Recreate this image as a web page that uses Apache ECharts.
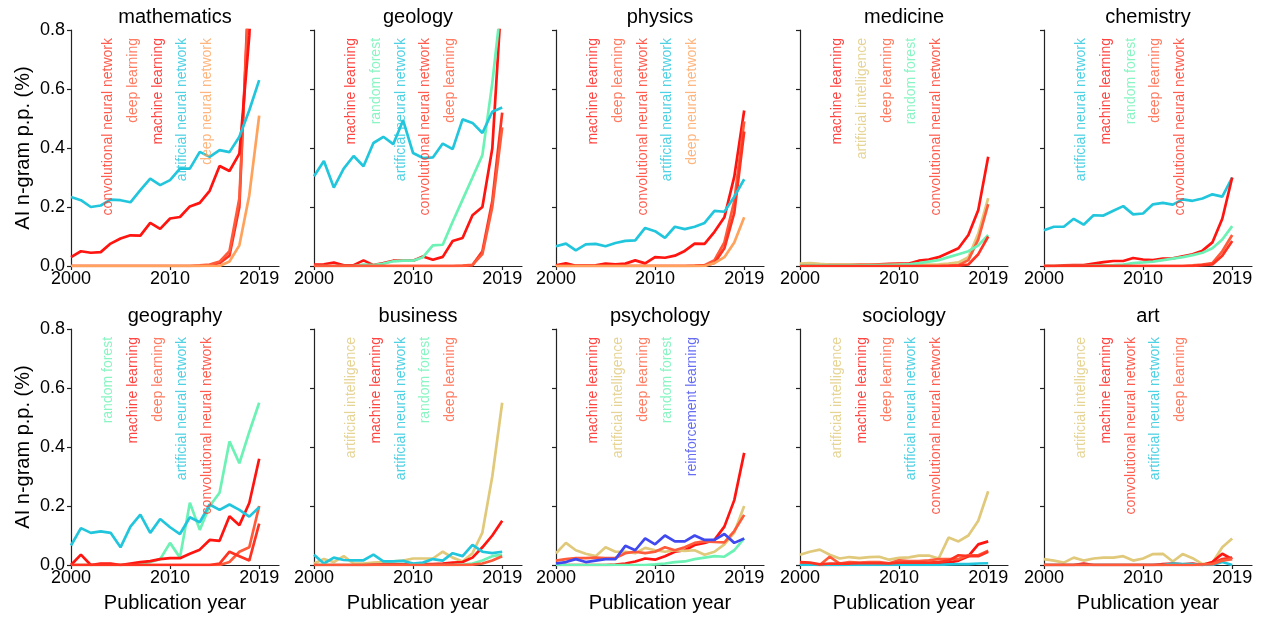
<!DOCTYPE html>
<html><head><meta charset="utf-8">
<script src="https://cdn.jsdelivr.net/npm/echarts@6/dist/echarts.min.js"></script>
<style>html,body{margin:0;padding:0;background:#fff}#c{width:1261px;height:617px}</style>
</head><body><div id="c"></div><script>
const years = [2000,2001,2002,2003,2004,2005,2006,2007,2008,2009,2010,2011,2012,2013,2014,2015,2016,2017,2018,2019];
const xTicks = [2000, 2010, 2019];
const yTicks = [0, 0.2, 0.4, 0.6, 0.8];

// mathematics
const math_CNN = [0,0,0,0,0,0,0,0,0,0,0,0,0,0,0.003,0.01,0.035,0.2,1.0,2.2];
const math_DL  = [0,0,0,0,0,0,0,0,0,0,0,0,0,0.002,0.005,0.015,0.05,0.23,0.95,2.0];
const math_ML  = [0.030,0.050,0.045,0.047,0.076,0.093,0.104,0.103,0.146,0.126,0.161,0.166,0.202,0.214,0.255,0.339,0.322,0.381,0.78,1.5];
const math_ANN = [0.234,0.223,0.200,0.205,0.225,0.223,0.216,0.257,0.296,0.274,0.291,0.330,0.330,0.387,0.370,0.393,0.386,0.438,0.528,0.630];
const math_DNN = [0,0,0,0,0,0,0,0,0,0,0,0,0,0,0,0,0.015,0.07,0.24,0.51];
// geology
const geo_ML  = [0.005,0.006,0.012,0.002,0.003,0.019,0.003,0.010,0.018,0.018,0.018,0.032,0.021,0.031,0.085,0.095,0.172,0.200,0.398,0.95];
const geo_RF  = [0,0,0,0,0,0.005,0.003,0.008,0.016,0.018,0.018,0.03,0.07,0.072,0.15,0.225,0.3,0.376,0.62,0.92];
const geo_ANN = [0.304,0.356,0.266,0.330,0.373,0.338,0.417,0.438,0.413,0.494,0.383,0.366,0.368,0.415,0.396,0.497,0.485,0.451,0.523,0.537];
const geo_CNN = [0,0,0,0,0,0,0,0,0,0,0,0,0,0,0,0,0.003,0.05,0.22,0.52];
const geo_DL  = [0,0,0,0,0,0,0,0,0,0,0,0,0,0,0,0.001,0.004,0.04,0.2,0.47];
// physics
const phy_ML  = [0.002,0.009,0.001,0.001,0.002,0.008,0.006,0.008,0.019,0.009,0.030,0.028,0.035,0.051,0.076,0.075,0.116,0.165,0.303,0.527];
const phy_DL  = [0,0,0,0,0,0,0,0,0,0,0,0,0,0,0.001,0.003,0.02,0.08,0.22,0.49];
const phy_CNN = [0,0,0,0,0,0,0,0,0,0,0,0,0,0,0,0.001,0.01,0.06,0.18,0.456];
const phy_ANN = [0.067,0.076,0.053,0.073,0.075,0.067,0.078,0.085,0.087,0.129,0.118,0.095,0.133,0.125,0.133,0.146,0.187,0.184,0.235,0.294];
const phy_DNN = [0,0,0,0,0,0,0,0,0,0,0,0,0,0,0,0,0.01,0.03,0.08,0.165];
// medicine
const med_ML  = [0.004,0.004,0.004,0.004,0.004,0.004,0.005,0.005,0.006,0.007,0.008,0.008,0.018,0.022,0.03,0.045,0.06,0.105,0.19,0.37];
const med_AI  = [0.008,0.01,0.007,0.005,0.005,0.005,0.004,0.004,0.004,0.004,0.005,0.005,0.005,0.005,0.006,0.008,0.012,0.03,0.11,0.23];
const med_DL  = [0,0,0,0,0,0,0,0,0,0,0,0,0,0,0,0.001,0.003,0.02,0.09,0.21];
const med_RF  = [0.001,0.001,0.001,0.001,0.001,0.001,0.001,0.002,0.002,0.003,0.004,0.006,0.01,0.015,0.02,0.03,0.04,0.05,0.07,0.105];
const med_CNN = [0,0,0,0,0,0,0,0,0,0,0,0,0,0,0,0,0.001,0.005,0.04,0.1];
// chemistry
const chem_ANN = [0.121,0.133,0.133,0.160,0.140,0.172,0.171,0.187,0.203,0.175,0.178,0.209,0.214,0.208,0.226,0.221,0.229,0.243,0.235,0.300];
const chem_ML  = [0,0,0.002,0.003,0.003,0.008,0.013,0.017,0.017,0.027,0.022,0.020,0.025,0.026,0.033,0.040,0.052,0.080,0.160,0.300];
const chem_RF  = [0,0,0,0,0,0.001,0.002,0.003,0.005,0.01,0.012,0.015,0.02,0.025,0.03,0.037,0.045,0.06,0.09,0.135];
const chem_DL  = [0,0,0,0,0,0,0,0,0,0,0,0,0,0,0,0.002,0.005,0.01,0.05,0.105];
const chem_CNN = [0,0,0,0,0,0,0,0,0,0,0,0,0,0,0,0,0.003,0.005,0.035,0.085];
// geography
const geog_RF  = [0,0,0,0,0,0,0.002,0.005,0.01,0.02,0.075,0.025,0.211,0.119,0.200,0.245,0.419,0.345,0.451,0.55];
const geog_ML  = [0.0,0.035,0.0,0.005,0.005,0.0,0.005,0.01,0.013,0.02,0.023,0.023,0.038,0.052,0.085,0.082,0.165,0.135,0.21,0.36];
const geog_DL  = [0,0,0,0,0,0,0,0,0,0,0,0,0,0,0,0,0.01,0.045,0.06,0.2];
const geog_ANN = [0.066,0.125,0.109,0.114,0.109,0.060,0.130,0.171,0.109,0.156,0.128,0.105,0.162,0.145,0.205,0.187,0.205,0.187,0.164,0.196];
const geog_CNN = [0,0,0,0,0,0,0,0,0,0,0,0,0,0,0,0.005,0.045,0.03,0.015,0.14];
// business
const bus_AI  = [0.005,0.02,0.01,0.03,0.005,0.005,0.008,0.01,0.012,0.015,0.022,0.022,0.022,0.045,0.025,0.012,0.04,0.11,0.30,0.55];
const bus_ML  = [0,0,0,0,0,0,0.001,0.002,0.002,0.002,0.002,0.003,0.003,0.005,0.008,0.01,0.025,0.06,0.10,0.15];
const bus_ANN = [0.035,0.005,0.025,0.017,0.016,0.016,0.035,0.012,0.012,0.014,0.005,0.008,0.02,0.015,0.04,0.03,0.068,0.045,0.04,0.045];
const bus_RF  = [0,0,0,0,0,0,0,0,0,0,0,0,0,0,0,0.001,0.005,0.015,0.03,0.035];
const bus_DL  = [0,0,0,0,0,0,0,0,0,0,0,0,0,0,0,0,0.001,0.005,0.015,0.03];
// psychology
const psy_ML = [0,0,0,0,0,0,0.001,0.005,0.012,0.022,0.018,0.03,0.045,0.05,0.068,0.075,0.085,0.13,0.22,0.38];
const psy_AI = [0.04,0.075,0.05,0.038,0.03,0.06,0.045,0.045,0.04,0.058,0.05,0.045,0.05,0.048,0.05,0.035,0.045,0.07,0.11,0.2];
const psy_DL = [0.015,0.02,0.023,0.023,0.025,0.023,0.024,0.04,0.045,0.04,0.045,0.06,0.05,0.06,0.075,0.08,0.078,0.077,0.115,0.17];
const psy_RF = [0,0,0,0,0,0,0,0,0,0,0.002,0.005,0.01,0.012,0.02,0.025,0.03,0.028,0.05,0.09];
const psy_RL = [0.005,0.01,0.02,0.01,0.015,0.02,0.02,0.065,0.05,0.09,0.07,0.1,0.08,0.08,0.1,0.085,0.085,0.105,0.075,0.09];
// sociology
const soc_AI  = [0.035,0.045,0.052,0.035,0.022,0.027,0.023,0.027,0.028,0.018,0.024,0.026,0.032,0.032,0.022,0.093,0.08,0.1,0.15,0.25];
const soc_ML  = [0.005,0.002,0,0,0,0.001,0.001,0.001,0.001,0.001,0.003,0.002,0.003,0.005,0.005,0.008,0.015,0.03,0.07,0.08];
const soc_DL  = [0.008,0.005,0.0,0.028,0.005,0.01,0.008,0.01,0.01,0.006,0.016,0.013,0.013,0.016,0.02,0.02,0.02,0.033,0.033,0.048];
const soc_ANN = [0,0,0,0,0,0,0,0,0,0,0,0,0,0,0,0.002,0.003,0.003,0.005,0.006];
const soc_CNN = [0.01,0.008,0.002,0.005,0.005,0.005,0.006,0.006,0.006,0.005,0.008,0.008,0.008,0.008,0.01,0.015,0.033,0.03,0.03,0.045];
// art
const art_AI  = [0.02,0.015,0.008,0.025,0.015,0.022,0.025,0.025,0.03,0.015,0.022,0.037,0.038,0.012,0.037,0.023,0.003,0.008,0.06,0.09];
const art_ML  = [0,0,0,0,0.005,0,0,0,0,0,0,0,0.003,0.005,0.002,0.005,0,0.01,0.038,0.02];
const art_CNN = [0,0,0,0,0,0,0,0,0,0,0,0,0,0,0,0,0,0.005,0.02,0.025];
const art_ANN = [0,0,0,0,0,0,0,0,0,0,0,0,0,0.005,0.003,0.003,0,0,0.01,0.0];
const art_DL  = [0,0,0,0,0,0,0,0,0,0,0,0,0,0,0,0,0.002,0.003,0.015,0.02];

const termColors = {
  'machine learning': '#ff1410',
  'convolutional neural network': '#ff3322',
  'deep learning': '#ff5a3a',
  'deep neural network': '#ffa25c',
  'artificial neural network': '#22c6dc',
  'random forest': '#6cf2b4',
  'artificial intelligence': '#e0c97a',
  'reinforcement learning': '#4048f0'
};

const panels = [
  ['mathematics', [['convolutional neural network', math_CNN], ['deep learning', math_DL], ['machine learning', math_ML], ['artificial neural network', math_ANN], ['deep neural network', math_DNN]]],
  ['geology', [['machine learning', geo_ML], ['random forest', geo_RF], ['artificial neural network', geo_ANN], ['convolutional neural network', geo_CNN], ['deep learning', geo_DL]]],
  ['physics', [['machine learning', phy_ML], ['deep learning', phy_DL], ['convolutional neural network', phy_CNN], ['artificial neural network', phy_ANN], ['deep neural network', phy_DNN]]],
  ['medicine', [['machine learning', med_ML], ['artificial intelligence', med_AI], ['deep learning', med_DL], ['random forest', med_RF], ['convolutional neural network', med_CNN]]],
  ['chemistry', [['artificial neural network', chem_ANN], ['machine learning', chem_ML], ['random forest', chem_RF], ['deep learning', chem_DL], ['convolutional neural network', chem_CNN]]],
  ['geography', [['random forest', geog_RF], ['machine learning', geog_ML], ['deep learning', geog_DL], ['artificial neural network', geog_ANN], ['convolutional neural network', geog_CNN]]],
  ['business', [['artificial intelligence', bus_AI], ['machine learning', bus_ML], ['artificial neural network', bus_ANN], ['random forest', bus_RF], ['deep learning', bus_DL]]],
  ['psychology', [['machine learning', psy_ML], ['artificial intelligence', psy_AI], ['deep learning', psy_DL], ['random forest', psy_RF], ['reinforcement learning', psy_RL]]],
  ['sociology', [['artificial intelligence', soc_AI], ['machine learning', soc_ML], ['deep learning', soc_DL], ['artificial neural network', soc_ANN], ['convolutional neural network', soc_CNN]]],
  ['art', [['artificial intelligence', art_AI], ['machine learning', art_ML], ['convolutional neural network', art_CNN], ['artificial neural network', art_ANN], ['deep learning', art_DL]]]
];

const FONT = '"Liberation Sans", Arial, Helvetica, sans-serif';
const colLeft = [71, 314, 556, 800, 1044];
const rowTop = [30, 329];
const gridW = 208, gridH = 236;
const labelYear0 = 2003.75, labelStep = 2.5, labelVal = 0.773;

const grid = [], xAxis = [], yAxis = [], series = [], graphic = [];
panels.forEach(([title, lines], k) => {
  const r = Math.floor(k / 5), c = k % 5;
  grid.push({left: colLeft[c], top: rowTop[r], width: gridW, height: gridH});
  xAxis.push({
    type: 'value', gridIndex: k, min: 2000, max: 2021,
    axisLine: {show: true, onZero: false, lineStyle: {color: '#222', width: 1.2}},
    axisTick: {show: true, length: 4, customValues: xTicks, lineStyle: {color: '#222', width: 1.2}},
    axisLabel: {show: true, customValues: xTicks, fontSize: 18, color: '#000', fontFamily: FONT, margin: 4,
      formatter: v => String(v)},
    splitLine: {show: false},
    name: r === 1 ? 'Publication year' : '', nameLocation: 'middle', nameGap: 28,
    nameTextStyle: {fontSize: 20, color: '#000', fontFamily: FONT}
  });
  yAxis.push({
    type: 'value', gridIndex: k, min: 0, max: 0.8, interval: 0.2,
    axisLine: {show: true, lineStyle: {color: '#222', width: 1.2}},
    axisTick: {show: true, length: 4, lineStyle: {color: '#222', width: 1.2}},
    axisLabel: {show: c === 0, fontSize: 18, color: '#000', fontFamily: FONT, margin: 6, formatter: v => v.toFixed(1)},
    splitLine: {show: false},
    name: c === 0 ? 'AI n-gram p.p. (%)' : '', nameLocation: 'middle', nameGap: 38,
    nameTextStyle: {fontSize: 20, color: '#000', fontFamily: FONT}
  });
  lines.forEach(([name, vals]) => {
    series.push({
      type: 'line', name, xAxisIndex: k, yAxisIndex: k,
      data: years.map((y, i) => [y, vals[i]]),
      showSymbol: false, symbol: 'none', clip: true, silent: true,
      lineStyle: {color: termColors[name], width: 2.7},
      itemStyle: {color: termColors[name]}
    });
  });
  series.push({
    type: 'scatter', xAxisIndex: k, yAxisIndex: k, symbolSize: 0, silent: true, z: 10,
    data: lines.map(([name], i) => ({
      name, value: [labelYear0 + labelStep * i, labelVal],
      label: {color: termColors[name]}
    })),
    label: {show: true, position: 'inside', formatter: p => p.name, rotate: 90,
      align: 'right', verticalAlign: 'middle', fontSize: 14, fontFamily: FONT}
  });
  graphic.push({
    type: 'text', x: colLeft[c] + 104, y: rowTop[r] - 13,
    style: {text: title, fontSize: 20, fontFamily: FONT, fill: '#000', align: 'center', verticalAlign: 'middle'}
  });
});

const chart = echarts.init(document.getElementById('c'), null, {renderer: 'canvas'});
chart.setOption({animation: false, backgroundColor: '#fff', grid, xAxis, yAxis, series, graphic});
</script></body></html>
